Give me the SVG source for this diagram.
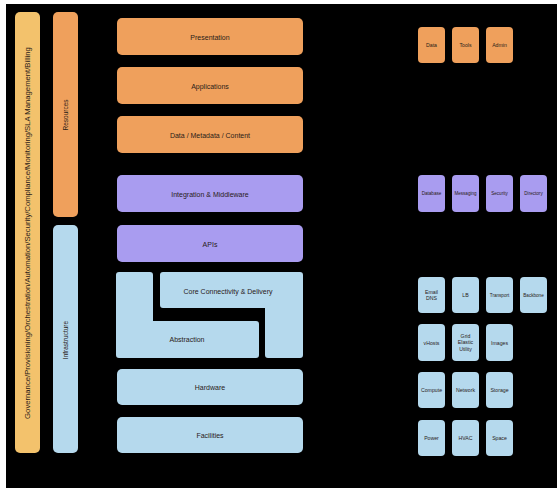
<svg xmlns="http://www.w3.org/2000/svg" width="557" height="488" viewBox="0 0 557 488">
  <style>
    text { font-family: "Liberation Sans", Arial, sans-serif; fill: #2a2018; text-anchor: middle; dominant-baseline: central; }
    .lbl { font-size: 7px; }
    .side { font-size: 6.5px; }
    .sm { font-size: 5.2px; }
    .xs { font-size: 4.6px; }
    .orange { fill: #EFA05C; }
    .gold { fill: #F3C26C; }
    .purple { fill: #A99CF0; }
    .blue { fill: #B5D9ED; }
    .shape { stroke-width: 6; stroke-linejoin: round; }
  </style>
  <rect x="0" y="0" width="557" height="488" fill="#ffffff"/>
  <rect x="6" y="4" width="551" height="484" fill="#000000"/>

  <!-- vertical side bars -->
  <g id="governance">
    <rect class="gold" x="15" y="12" width="25" height="441" rx="5"/>
    <text style="font-size:7.7px" transform="translate(27.5,233) rotate(-90)">Governance/Provisioning/Orchestration/Automation/Security/Compliance/Monitoring/SLA Management/Billing</text>
  </g>
  <g id="resources">
    <rect class="orange" x="53" y="12" width="25" height="205" rx="5"/>
    <text class="side" transform="translate(65.5,115) rotate(-90)">Resources</text>
  </g>
  <g id="infrastructure">
    <rect class="blue" x="53" y="225" width="25" height="228" rx="5"/>
    <text class="side" transform="translate(65.5,340) rotate(-90)">Infrastructure</text>
  </g>

  <!-- main layer stack -->
  <g id="presentation">
    <rect class="orange" x="117" y="18" width="186" height="37" rx="5"/>
    <text class="lbl" x="210" y="37">Presentation</text>
  </g>
  <g id="applications">
    <rect class="orange" x="117" y="67" width="186" height="37" rx="5"/>
    <text class="lbl" x="210" y="86">Applications</text>
  </g>
  <g id="data">
    <rect class="orange" x="117" y="116" width="186" height="37" rx="5"/>
    <text class="lbl" x="210" y="135">Data / Metadata / Content</text>
  </g>
  <g id="integration">
    <rect class="purple" x="117" y="175" width="186" height="37" rx="5"/>
    <text class="lbl" x="210" y="194">Integration &amp; Middleware</text>
  </g>
  <g id="apis">
    <rect class="purple" x="117" y="225" width="186" height="37" rx="5"/>
    <text class="lbl" x="210" y="244">APIs</text>
  </g>
  <g id="core">
    <polygon class="blue shape" stroke="#B5D9ED" points="163,275 300,275 300,355 268,355 268,305 163,305"/>
    <text class="lbl" x="228" y="291">Core Connectivity &amp; Delivery</text>
  </g>
  <g id="abstraction">
    <polygon class="blue shape" stroke="#B5D9ED" points="119,275 150,275 150,324 256,324 256,355 119,355"/>
    <text class="lbl" x="187" y="339">Abstraction</text>
  </g>
  <g id="hardware">
    <rect class="blue" x="117" y="369" width="186" height="36" rx="5"/>
    <text class="lbl" x="210" y="387">Hardware</text>
  </g>
  <g id="facilities">
    <rect class="blue" x="117" y="417" width="186" height="36" rx="5"/>
    <text class="lbl" x="210" y="435">Facilities</text>
  </g>

  <!-- component tiles -->
  <g id="tile-data">
    <rect class="orange" x="418" y="27" width="27" height="36" rx="4"/>
    <text class="sm" x="431.5" y="45">Data</text>
  </g>
  <g id="tile-tools">
    <rect class="orange" x="452" y="27" width="27" height="36" rx="4"/>
    <text class="sm" x="465.5" y="45">Tools</text>
  </g>
  <g id="tile-admin">
    <rect class="orange" x="486" y="27" width="27" height="36" rx="4"/>
    <text class="sm" x="499.5" y="45">Admin</text>
  </g>

  <g id="tile-database">
    <rect class="purple" x="418" y="175" width="27" height="37" rx="4"/>
    <text class="xs" x="431.5" y="193.5">Database</text>
  </g>
  <g id="tile-messaging">
    <rect class="purple" x="452" y="175" width="27" height="37" rx="4"/>
    <text class="xs" x="465.5" y="193.5">Messaging</text>
  </g>
  <g id="tile-security">
    <rect class="purple" x="486" y="175" width="27" height="37" rx="4"/>
    <text class="xs" x="499.5" y="193.5">Security</text>
  </g>
  <g id="tile-directory">
    <rect class="purple" x="520" y="175" width="27" height="37" rx="4"/>
    <text class="xs" x="533.5" y="193.5">Directory</text>
  </g>

  <g id="tile-email-dns">
    <rect class="blue" x="418" y="277" width="27" height="36" rx="4"/>
    <text class="sm" x="431.5" y="291.5">Email</text>
    <text class="sm" x="431.5" y="298">DNS</text>
  </g>
  <g id="tile-lb">
    <rect class="blue" x="452" y="277" width="27" height="36" rx="4"/>
    <text class="sm" x="465.5" y="295">LB</text>
  </g>
  <g id="tile-transport">
    <rect class="blue" x="486" y="277" width="27" height="36" rx="4"/>
    <text class="xs" x="499.5" y="295">Transport</text>
  </g>
  <g id="tile-backbone">
    <rect class="blue" x="520" y="277" width="27" height="36" rx="4"/>
    <text class="xs" x="533.5" y="295">Backbone</text>
  </g>
  <g id="tile-vhosts">
    <rect class="blue" x="418" y="324" width="27" height="37" rx="4"/>
    <text class="sm" x="431.5" y="342.5">vHosts</text>
  </g>
  <g id="tile-grid">
    <rect class="blue" x="452" y="324" width="27" height="37" rx="4"/>
    <text class="sm" x="465.5" y="335.5">Grid</text>
    <text class="sm" x="465.5" y="342">Elastic</text>
    <text class="sm" x="465.5" y="348.5">Utility</text>
  </g>
  <g id="tile-images">
    <rect class="blue" x="486" y="324" width="27" height="37" rx="4"/>
    <text class="sm" x="499.5" y="342.5">Images</text>
  </g>

  <g id="tile-compute">
    <rect class="blue" x="418" y="372" width="27" height="36" rx="4"/>
    <text class="sm" x="431.5" y="390">Compute</text>
  </g>
  <g id="tile-network">
    <rect class="blue" x="452" y="372" width="27" height="36" rx="4"/>
    <text class="sm" x="465.5" y="390">Network</text>
  </g>
  <g id="tile-storage">
    <rect class="blue" x="486" y="372" width="27" height="36" rx="4"/>
    <text class="sm" x="499.5" y="390">Storage</text>
  </g>
  <g id="tile-power">
    <rect class="blue" x="418" y="420" width="27" height="36" rx="4"/>
    <text class="sm" x="431.5" y="438">Power</text>
  </g>
  <g id="tile-hvac">
    <rect class="blue" x="452" y="420" width="27" height="36" rx="4"/>
    <text class="sm" x="465.5" y="438">HVAC</text>
  </g>
  <g id="tile-space">
    <rect class="blue" x="486" y="420" width="27" height="36" rx="4"/>
    <text class="sm" x="499.5" y="438">Space</text>
  </g>

  <!-- connectors: none drawn in this layered stack -->
  <g id="connectors"/>
</svg>
